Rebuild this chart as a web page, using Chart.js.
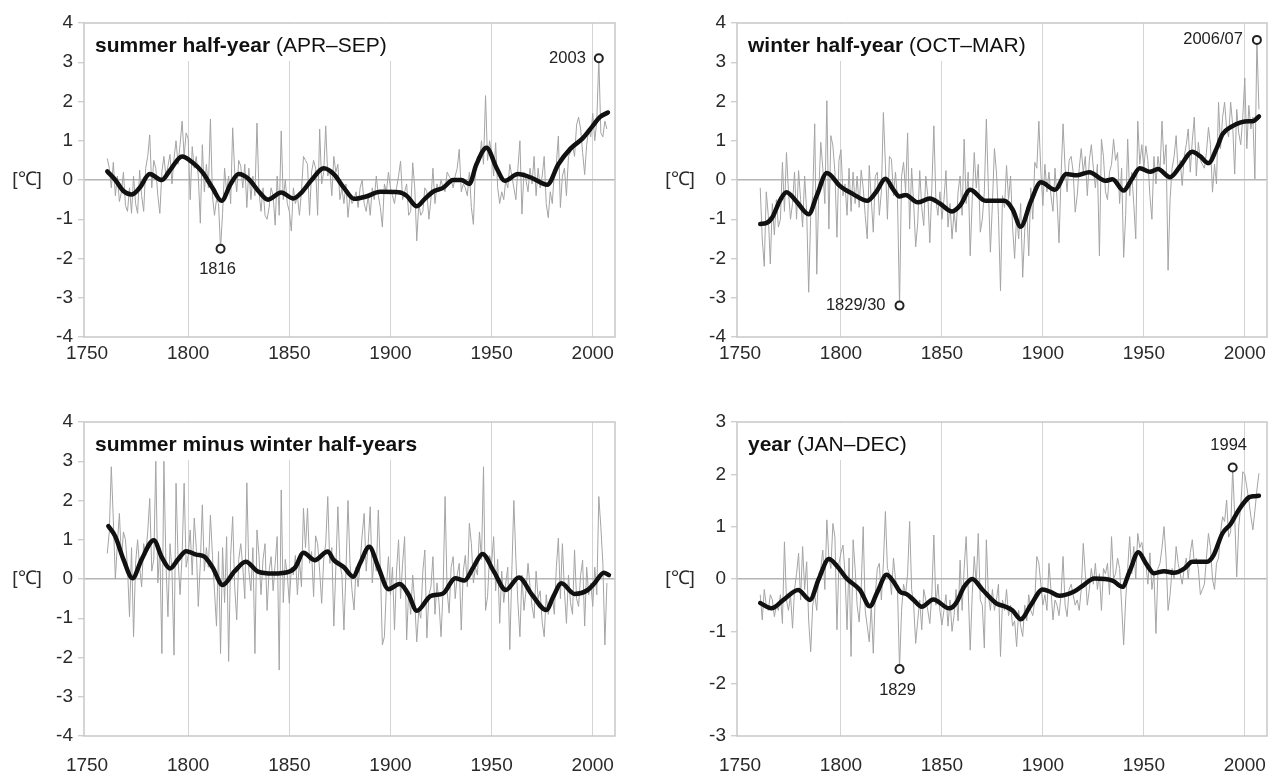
<!DOCTYPE html>
<html>
<head>
<meta charset="utf-8">
<script src="https://cdn.jsdelivr.net/npm/chart.js@4.4.1/dist/chart.umd.min.js"></script>
<style>
  body { margin: 0; background: #fff; overflow: hidden; }
  .panel { position: absolute; }
</style>
</head>
<body>
<div class="panel" style="left:0;top:0;width:640px;height:390px"><canvas id="c1"></canvas></div>
<div class="panel" style="left:640px;top:0;width:636px;height:390px"><canvas id="c2"></canvas></div>
<div class="panel" style="left:0;top:390px;width:640px;height:386px"><canvas id="c3"></canvas></div>
<div class="panel" style="left:640px;top:390px;width:636px;height:386px"><canvas id="c4"></canvas></div>
<script>
const FONT = '"Liberation Sans", Arial, Helvetica, sans-serif';
const firstYear = 1760;
const tickYears = [1750, 1800, 1850, 1900, 1950, 2000];

// annual anomalies [°C], 1760-2007
const summer = [
  0.55, 0.3, -0.2, 0.45, -0.4, 0.1, -0.55, -0.3, 0.2, -0.65,
  -0.8, -0.2, -0.85, 0.1, -0.6, -0.85, 0.25, -0.4, -0.8, 0.3,
  0.6, 1.15, -0.2, 0.5, 0.3, -0.4, -0.85, 0.2, 0.6, 0.1,
  0.35, 0.65, -0.1, 0.55, 1.0, 0.4, 0.9, 1.5, 0.6, 1.2,
  1.05, -0.5, 0.85, 0.3, 0.6, 0.1, -1.1, 0.9, -0.3, 0.4,
  -0.2, 1.55, -0.4, -0.9, -0.5, -0.6, -1.75, -0.85, 0.3, -0.3,
  0.1, -0.6, 1.33, 0.2, -0.3, 0.5, 0.35, -0.2, 0.4, -0.7,
  0.3, -0.5, 0.1, -0.4, 1.45, -0.3, -0.8, -0.2, -0.9, -1.0,
  -0.7, -0.2, -0.4, -1.15, 0.1, -0.9, 1.25, -0.5, 0.0, -0.6,
  -0.8, -1.3, -0.2, -0.6, -0.4, -0.9, -0.3, 0.6, 0.5, 0.4,
  -0.9, 0.2, 0.5, 0.3, -0.9, 1.3, -0.1, 0.2, 1.38, 0.1,
  0.3, -0.4, 0.6, 0.2, 0.4, -0.5, -0.2, -0.6, -0.1, -0.95,
  -0.4, -0.6, -0.5, -0.3, -0.7, -0.2, 0.0, -0.6, -0.8, -0.4,
  -0.9, -0.2, -0.5, 0.1, -0.4, -0.7, -1.2, -0.1, -0.3, 0.2,
  -0.2, -0.4, -0.6, -0.2, 0.1, 0.48, -0.5, -0.3, -0.1, -0.9,
  -0.8, 0.44, -0.2, -1.55, -0.6, -0.9, -0.8, -0.2, -0.3, -1.0,
  -0.5, 0.3, -0.6, -0.1, -0.3, 0.0, -0.2, -0.3, 0.2, 0.1,
  0.0, -0.2, 0.1, 0.3, 0.78, -0.3, -0.1, -0.2, -0.4, 0.2,
  -0.7, -1.13, 0.3, 0.6, 0.5, 1.0, 0.4, 2.15, 0.5, 1.0,
  0.7, 0.1, 0.95, -0.2, -0.6, -0.3, -0.5, 0.0, -0.2, 0.4,
  0.1, -0.2, -0.5, 0.3, 1.0, -0.87, 0.2, 0.0, -0.3, 0.3,
  -0.1, 0.6, -0.4, 0.3, -0.2, 0.1, 0.6, -0.6, -0.96, -0.3,
  -0.6, 0.2, 0.4, 1.12, -0.7, 0.1, 0.3, -0.4, 0.6, 0.7,
  0.9, 0.6, 1.4, 1.6, 1.3, 0.7, 0.14, 0.9, 1.3, 1.1,
  1.7, 1.0, 1.5, 3.1, 1.2, 1.1, 1.5, 1.3
];
const winter = [
  -0.2, -1.5, -2.2, -0.3, -0.9, -2.14, -0.6, -1.4, -0.5, -1.2,
  -1.0, 0.45, -0.8, 0.7, -0.3, -1.0, -0.6, 0.2, -1.0, 0.24,
  -0.5, -1.2, 0.1, -0.8, -2.86, -0.9, -0.4, 1.43, -2.4, -0.3,
  0.96, 0.3, -0.6, 2.02, -1.25, 1.13, 0.87, 0.2, -1.46, 0.5,
  0.77, -0.4, -0.1, -0.9, 0.3, -0.8, 0.2, -0.6, 0.1, -0.7,
  0.25, -0.2, -0.9, -1.5, 0.37, -0.5, -1.33, 0.1, 0.2, -0.9,
  -0.3, 1.72, 0.4, -1.0, 0.6, 0.53, -0.4, 0.2, -0.5, -3.2,
  0.1, 0.45, -0.3, 1.2, -1.25, 0.3, -0.6, -1.7, -1.1, 0.24,
  -0.7, -1.16, 0.1, -0.4, -1.6, -0.2, 1.38, -0.5, -0.9, -0.3,
  -1.0, -0.5, 0.24, -1.2, -0.6, -1.5, -0.8, -1.33, -0.3, 0.1,
  -0.9, 1.04, -0.6, 0.2, -1.93, -0.5, 0.7, -0.2, 0.4, -1.33,
  -1.0, -0.3, 1.55, -0.2, -1.84, -0.6, 0.8, 0.2, -0.9, -2.82,
  -0.4, -0.7, 0.37, -0.5, 0.1, -1.2, -2.0, -0.9, -1.5, -0.6,
  -2.48, -1.3, -0.7, -1.93, -0.2, -1.0, 0.45, 0.3, 1.5, 0.2,
  -0.65, 0.4, -0.3, 0.2, -0.4, -0.8, 0.3, -0.5, -1.6, 0.1,
  1.43, 0.3, -0.3, 0.5, 0.6, 0.2, -0.82, -0.4, 0.3, 0.8,
  0.2, 0.6, -0.4, 0.5, 0.9, 0.3, -0.2, 0.4, -1.93, 1.04,
  0.6, -0.3, -0.5, 0.2, 0.4, 1.04, 0.5, 0.7, -0.6, 0.3,
  -1.97, -0.9, 1.04, -0.4, 0.2, -0.6, -1.5, 1.5, 0.4, 0.9,
  0.3, 0.87, 0.5, -0.4, -1.0, 0.6, -0.1, 0.6, 0.2, 1.5,
  0.4, 0.9, -2.3, -0.5, 0.3, 0.6, 1.13, 0.2, 0.5, -0.14,
  0.6, 0.9, 1.3, 0.2, 1.0, 1.6, 0.1, 0.96, 0.5, 0.4,
  0.3, 0.7, 1.34, 0.9, -0.31, 0.4, -0.1, 1.98, 0.8, 1.6,
  1.98, 1.3, 1.1, 1.98, 1.4, 0.15, 1.8, 1.2, 0.9, 1.6,
  2.6, 0.8, 1.9, 1.3, 1.6, 0.03, 3.57, 1.8
];
const summerMinusWinter = [
  0.65, 1.2, 2.86, 1.5, 0.0, 0.9, 1.67, 0.5, 1.2, 1.0,
  0.3, -0.96, 0.8, -1.47, 0.4, 1.0, 0.3, -0.2, 0.9, 0.6,
  1.2, 2.05, 0.2, 0.5, 3.0, -0.1, 0.8, -1.9, 3.0, 0.4,
  -0.96, 0.9, 0.2, -1.94, 2.44, 0.5, -0.4, 0.6, 2.44, 0.3,
  0.6, 1.25, 0.1, 1.55, 0.8, -0.7, 0.4, 1.89, 0.2, 0.8,
  0.3, 1.63, 0.6, -0.3, -1.2, 0.7, -1.9, 0.8, -0.6, 1.08,
  -2.1, 0.6, 1.59, -0.2, -1.04, 0.5, 0.9, 0.3, -0.5, 2.45,
  0.2, -0.3, 0.8, -1.9, 1.25, 0.6, -0.4, 0.5, 0.9, -0.8,
  0.2, 0.57, -0.3, 0.4, 1.08, -2.32, 2.27, -0.6, 0.5, 0.1,
  -0.62, 0.3, 0.1, 0.6, -0.4, 0.5, -0.2, 1.8, 0.8, 1.8,
  0.4, 0.7, -0.45, 1.1, 0.9, 0.2, -0.62, 0.5, 0.9, 2.1,
  0.4, 0.8, -1.2, 0.3, 1.84, 0.4, 0.1, -1.3, 0.2, 2.0,
  0.4, -0.3, -0.79, 0.3, -0.2, 0.4, 1.12, 1.67, 0.2, 0.9,
  1.84, -0.1, 0.6, 0.2, 1.76, 0.3, -1.68, -1.47, -0.2, 0.57,
  -0.4, 0.3, -1.3, 0.2, 1.0, -0.5, 0.4, 1.08, -1.55, -0.3,
  -0.9, 0.1, -0.6, -1.6, -0.8, -1.0, 0.2, 0.74, -1.5, -0.4,
  -0.2, 0.57, -0.9, -0.1, -0.6, -1.47, -0.3, 2.1, -0.3, -0.87,
  0.3, 0.57, -0.5, 0.1, 0.4, -1.3, 0.2, 0.6, -0.2, 1.42,
  0.9, -0.1, 0.3, 0.1, 1.2, 0.5, 2.86, -0.8, -0.45, 0.6,
  0.4, 1.08, -0.3, 0.5, -1.13, 0.2, -0.6, -0.1, 0.3, -1.8,
  0.2, 2.0, 0.5, -0.6, -1.47, 0.1, -0.8, -0.3, 0.4, -0.2,
  -0.7, -1.0, 0.2, -0.5, -0.3, -1.1, -1.47, -0.4, -0.9, -0.6,
  -0.4, -0.9, 0.3, 1.04, -0.5, 0.9, -0.3, -1.13, 0.1, -0.6,
  -0.9, 0.74, -0.5, -0.7, 0.1, 0.48, -1.2, 0.3, -0.4, -0.1,
  -0.7, 0.3, -0.4, 2.1, 1.33, 0.4, -1.68, -0.1
];
const wholeYear = [
  -0.3, -0.78, -0.2, -0.5, -0.6, -0.3, -0.4, -0.72, -0.5, -0.6,
  -0.3, -0.85, 0.71, -0.4, -0.6, -0.3, -0.94, -0.2, 0.1, 0.49,
  -0.4, 0.62, -0.2, 0.33, -0.8, -1.39, -0.5, -0.3, -0.6, 0.1,
  0.2, 0.55, -0.2, 1.13, 0.4, 0.2, 1.06, 0.8, -0.97, 0.3,
  0.5, 0.65, 0.1, -0.97, 0.4, -1.48, 0.75, 0.2, -0.5, -0.82,
  -0.2, 1.0, -0.6, -0.9, -1.2, -0.5, -1.42, -0.3, 0.2, 0.3,
  -0.4, 0.3, 1.29, 0.2, 0.1, -0.3, 0.4, 0.0, -0.2, -1.72,
  -0.6, -0.1, -0.3, 0.1, 1.1, -0.2, -0.5, -1.23, -0.8, -0.4,
  -0.97, -0.2, -0.4, -0.6, -0.85, -0.3, 0.84, -0.5, -0.1, -0.6,
  -0.88, -0.6, -0.3, -0.9, -0.4, -1.0, -0.7, -0.2, -0.8, 0.36,
  -0.6, 0.2, 0.81, -0.2, -1.36, -0.3, 0.43, -0.1, 0.87, -0.4,
  -0.5, -1.32, 0.75, -0.3, -0.6, -0.2, -0.6, -0.4, -0.1, -1.48,
  -0.4, -0.6, -0.2, -0.7, -0.5, -0.9, -0.8, -1.29, -0.6, -0.9,
  -1.1, -0.5, -0.8, -0.3, -0.6, -0.7, -0.4, 0.43, 0.3, -0.1,
  -0.5, -0.3, -0.6, 0.3, -0.2, -0.78, -0.4, -0.5, -0.7, -0.3,
  0.43, -0.5, -0.72, -0.2, -0.1, -0.3, -0.5, -0.4, -0.6, -0.2,
  0.68, 0.1, -0.5, -0.2, 0.2, -0.1, 0.3, -0.2, 0.1, -0.6,
  0.2, 0.1, 0.3, -0.3, 0.81, 0.0, 0.1, 0.4, 0.2, -0.5,
  -1.26, -0.4, 0.2, 0.81, 0.1, 0.62, 0.0, 0.87, 0.6, 0.7,
  0.4, 0.3, -0.1, 0.5, -0.2, 0.1, -1.04, 0.2, 0.3, 0.6,
  1.0, 0.4, -0.6, -0.3, 0.2, 0.0, 0.62, 0.3, 0.1, -0.1,
  0.2, 0.4, 0.0, 0.5, 0.75, 0.3, 0.4, 0.2, -0.3, -0.2,
  -0.1, 0.4, 0.87, 0.6, 0.0, -0.2, 0.3, 0.4, 0.9, 1.19,
  1.1, 1.51, 0.8, 0.9, 2.13, 1.2, 0.04, 1.0, 1.4, 2.05,
  2.0, 1.76, 1.5, 1.2, 0.94, 1.3, 1.7, 2.02
];

// smoothed curves (years / values)
const summerSmoothYears = [1760, 1764, 1768, 1772, 1776, 1781, 1787, 1791, 1797, 1802, 1807, 1812, 1816.5, 1821, 1825, 1830, 1835, 1839.5, 1846, 1852, 1856, 1861, 1867, 1872, 1877, 1882, 1888, 1895, 1904, 1908, 1913, 1917, 1921, 1926, 1931, 1935, 1939, 1942.5, 1947.5, 1952.5, 1956.5, 1963, 1970, 1977.5, 1983, 1989, 1995, 2000, 2003.5, 2007.5];
const summerSmooth = [0.22, 0.0, -0.28, -0.37, -0.2, 0.15, 0.0, 0.25, 0.6, 0.45, 0.2, -0.2, -0.53, -0.1, 0.15, 0.02, -0.3, -0.5, -0.32, -0.47, -0.32, 0.0, 0.3, 0.15, -0.2, -0.48, -0.42, -0.3, -0.31, -0.4, -0.67, -0.48, -0.3, -0.2, 0.0, 0.0, -0.1, 0.4, 0.82, 0.3, -0.02, 0.15, 0.05, -0.12, 0.4, 0.8, 1.06, 1.38, 1.6, 1.72];
const winterSmoothYears = [1760, 1763, 1766, 1770, 1773, 1778, 1784, 1788, 1793, 1799.5, 1806, 1813, 1817.5, 1822, 1826, 1829, 1832, 1838, 1844, 1849, 1855, 1859, 1864, 1871.5, 1881, 1885, 1889, 1894, 1899, 1906, 1911.5, 1917, 1923, 1931, 1934.5, 1940, 1944, 1948, 1953, 1957, 1963, 1968, 1974, 1978, 1982, 1986, 1989, 1993, 1998, 2002, 2004, 2007];
const winterSmooth = [-1.12, -1.1, -0.95, -0.5, -0.31, -0.55, -0.87, -0.4, 0.18, -0.15, -0.36, -0.53, -0.3, 0.03, -0.25, -0.42, -0.38, -0.57, -0.47, -0.6, -0.8, -0.65, -0.25, -0.53, -0.53, -0.75, -1.19, -0.55, -0.06, -0.25, 0.15, 0.12, 0.2, -0.02, 0.02, -0.27, 0.02, 0.3, 0.21, 0.28, 0.07, 0.35, 0.72, 0.6, 0.43, 0.8, 1.17, 1.35, 1.47, 1.5, 1.5, 1.62];
const diffSmoothYears = [1760.5, 1764, 1768, 1772.5, 1777, 1783, 1787, 1791, 1795, 1799, 1804, 1808, 1812, 1817, 1823, 1828.5, 1834.5, 1842, 1850, 1853, 1857, 1862.5, 1869, 1872, 1877, 1881.5, 1885, 1889.5, 1894, 1899, 1904.5, 1909, 1913, 1920, 1926, 1932, 1936.5, 1941, 1945.5, 1951, 1957, 1963.5, 1970, 1977, 1980.5, 1984.5, 1991, 1997.5, 2001, 2005.5, 2008];
const diffSmooth = [1.35, 1.08, 0.5, 0.02, 0.5, 0.99, 0.55, 0.27, 0.5, 0.71, 0.62, 0.57, 0.3, -0.15, 0.2, 0.44, 0.19, 0.14, 0.19, 0.3, 0.67, 0.48, 0.7, 0.48, 0.3, 0.06, 0.4, 0.82, 0.3, -0.26, -0.13, -0.4, -0.81, -0.43, -0.37, 0.02, -0.04, 0.3, 0.64, 0.2, -0.28, 0.04, -0.4, -0.79, -0.45, -0.11, -0.38, -0.28, -0.1, 0.16, 0.1];
const yearSmoothYears = [1760, 1765.5, 1771.5, 1778.8, 1784.6, 1789, 1794, 1798, 1802.8, 1809.4, 1814.3, 1818, 1822.6, 1826, 1829.2, 1832.5, 1836, 1840, 1845.7, 1853.6, 1857, 1861, 1865, 1870, 1876.7, 1881.6, 1885, 1889, 1894, 1899.9, 1904, 1908, 1915.5, 1920, 1925.4, 1934.5, 1939.4, 1943, 1947.3, 1951, 1955.1, 1960, 1965, 1970, 1974, 1981.4, 1984.5, 1988.9, 1993, 1997, 2002, 2004, 2007];
const yearSmooth = [-0.46, -0.56, -0.4, -0.21, -0.4, 0.0, 0.38, 0.25, 0.01, -0.21, -0.52, -0.25, 0.08, -0.05, -0.24, -0.29, -0.4, -0.53, -0.39, -0.56, -0.46, -0.15, 0.0, -0.2, -0.46, -0.53, -0.6, -0.77, -0.5, -0.2, -0.25, -0.32, -0.24, -0.12, 0.01, -0.03, -0.15, 0.15, 0.51, 0.3, 0.11, 0.15, 0.12, 0.2, 0.33, 0.33, 0.45, 0.87, 1.05, 1.32, 1.56, 1.58, 1.59];

// decorations: panel title, unit label, boxed plot area, extreme-year labels
function deco(p) {
  return {
    id: 'deco',
    beforeDatasetsDraw(chart) {
      const ctx = chart.ctx, a = chart.chartArea;
      ctx.save();
      let w = 0;
      p.title.forEach(t => {
        ctx.font = (t.bold ? 'bold ' : '') + '21px ' + FONT;
        w += ctx.measureText(t.text).width;
      });
      ctx.fillStyle = '#fff';
      ctx.fillRect(a.left + 1, a.top + 1, w + 20, 37);
      ctx.strokeStyle = '#c8c8c8';
      ctx.lineWidth = 1.5;
      ctx.strokeRect(a.left, a.top, a.right - a.left, a.bottom - a.top);
      ctx.fillStyle = '#111';
      ctx.textBaseline = 'middle';
      let x = a.left + 11;
      p.title.forEach(t => {
        ctx.font = (t.bold ? 'bold ' : '') + '21px ' + FONT;
        ctx.fillText(t.text, x, a.top + 23);
        x += ctx.measureText(t.text).width;
      });
      ctx.font = '19px ' + FONT;
      ctx.fillStyle = '#2a2a2a';
      ctx.textAlign = 'center';
      ctx.fillText('[℃]', a.left - 57, chart.scales.y.getPixelForValue(0));
      ctx.restore();
    },
    afterDatasetsDraw(chart) {
      const ctx = chart.ctx;
      ctx.save();
      ctx.font = '16.5px ' + FONT;
      ctx.fillStyle = '#222';
      ctx.textBaseline = 'middle';
      p.marks.forEach(m => {
        const px = chart.scales.x.getPixelForValue(m.year);
        const py = chart.scales.y.getPixelForValue(p.series[m.year - firstYear]);
        ctx.textAlign = m.align;
        ctx.fillText(m.label, px + m.dx, py + m.dy);
      });
      ctx.restore();
    }
  };
}

function makePanel(p) {
  const annual = p.series.map((v, i) => ({x: firstYear + i, y: v}));
  const smooth = p.smoothX.map((x, i) => ({x: x, y: p.smoothY[i]}));
  const marks = p.marks.map(m => ({x: m.year, y: p.series[m.year - firstYear]}));
  const tickFont = {family: FONT, size: 19};
  return new Chart(document.getElementById(p.id), {
    type: 'line',
    data: {
      datasets: [
        {data: marks, showLine: false, pointRadius: 4, pointBorderWidth: 2,
         pointBorderColor: '#222', pointBackgroundColor: '#fff', order: 1},
        {data: smooth, borderColor: '#111', borderWidth: 4.5, pointRadius: 0,
         cubicInterpolationMode: 'monotone', borderCapStyle: 'round', borderJoinStyle: 'round', order: 2},
        {data: annual, borderColor: '#a4a4a4', borderWidth: 1, pointRadius: 0, order: 3}
      ]
    },
    options: {
      responsive: true,
      maintainAspectRatio: false,
      animation: false,
      layout: {padding: {left: 0, top: p.top, right: p.right, bottom: 0}},
      plugins: {legend: {display: false}, tooltip: {enabled: false}},
      scales: {
        x: {
          type: 'linear', min: 1748.5, max: 2011,
          afterBuildTicks: s => { s.ticks = tickYears.map(v => ({value: v})); },
          afterFit: s => { s.height = p.xAxisH; s.paddingLeft = 0; s.paddingRight = 0; },
          border: {display: false},
          grid: {color: c => c.tick && c.tick.value === 1750 ? 'rgba(0,0,0,0)' : '#d4d4d4', lineWidth: 1, drawTicks: false},
          ticks: {font: tickFont, color: '#2a2a2a', padding: p.xPad, maxRotation: 0, autoSkip: false,
                  callback: v => String(v)}
        },
        y: {
          min: p.yMin, max: p.yMax,
          afterFit: s => { s.width = p.left; s.paddingTop = 0; s.paddingBottom = 0; },
          border: {display: false},
          grid: {color: c => c.tick && c.tick.value === 0 ? '#b4b4b4' : 'rgba(0,0,0,0)',
                 tickColor: '#cfcfcf', tickLength: 6, lineWidth: 1.4},
          ticks: {stepSize: 1, font: tickFont, color: '#2a2a2a', padding: 5}
        }
      }
    },
    plugins: [deco(p)]
  });
}

makePanel({
  id: 'c1', series: summer, smoothX: summerSmoothYears, smoothY: summerSmooth,
  yMin: -4, yMax: 4, left: 84, right: 25, top: 23, xAxisH: 53, xPad: 5,
  title: [{text: 'summer half-year', bold: true}, {text: ' (APR–SEP)', bold: false}],
  marks: [{year: 2003, label: '2003', align: 'right', dx: -13, dy: 0},
          {year: 1816, label: '1816', align: 'center', dx: -3, dy: 21}]
});
makePanel({
  id: 'c2', series: winter, smoothX: winterSmoothYears, smoothY: winterSmooth,
  yMin: -4, yMax: 4, left: 97, right: 9, top: 23, xAxisH: 53, xPad: 5,
  title: [{text: 'winter half-year', bold: true}, {text: ' (OCT–MAR)', bold: false}],
  marks: [{year: 2006, label: '2006/07', align: 'right', dx: -14, dy: 0},
          {year: 1829, label: '1829/30', align: 'right', dx: -14, dy: 0}]
});
makePanel({
  id: 'c3', series: summerMinusWinter, smoothX: diffSmoothYears, smoothY: diffSmooth,
  yMin: -4, yMax: 4, left: 84, right: 25, top: 32, xAxisH: 40, xPad: 18,
  title: [{text: 'summer minus winter half-years', bold: true}],
  marks: []
});
makePanel({
  id: 'c4', series: wholeYear, smoothX: yearSmoothYears, smoothY: yearSmooth,
  yMin: -3, yMax: 3, left: 97, right: 9, top: 32, xAxisH: 40, xPad: 18,
  title: [{text: 'year', bold: true}, {text: ' (JAN–DEC)', bold: false}],
  marks: [{year: 1994, label: '1994', align: 'center', dx: -4, dy: -22},
          {year: 1829, label: '1829', align: 'center', dx: -2, dy: 21}]
});
</script>
</body>
</html>
